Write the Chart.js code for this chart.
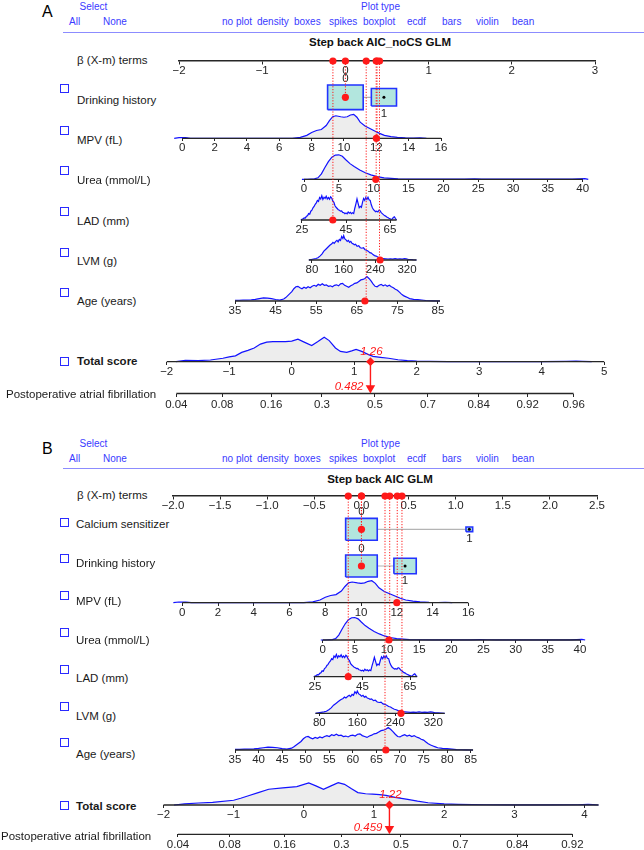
<!DOCTYPE html>
<html>
<head>
<meta charset="utf-8">
<script src="https://cdn.jsdelivr.net/npm/chart.js@4.4.0/dist/chart.umd.min.js"></script>
<style>
  html, body { margin: 0; padding: 0; background: #fff; }
  body { position: relative; width: 644px; height: 850px; overflow: hidden;
         font-family: "Liberation Sans", Arial, Helvetica, sans-serif; color: #1a1a1a; }
  canvas { position: absolute; }
  .t { position: absolute; white-space: nowrap; line-height: 1.2; transform: translateY(-50%); }
  .c { transform: translate(-50%, -50%); }
  .hd { font-size: 10px; color: #3a3aff; }
  .lab { font-size: 11.5px; color: #1a1a1a; }
  .box { position: absolute; width: 7px; height: 7px; border: 1.3px solid #2a2aff; }
  .rule { position: absolute; height: 0; border-top: 1px solid #8c8cff; }
</style>
</head>
<body>
<script>
// ---------- tick values ----------
var betaTicksA = [-2, -1, 0, 1, 2, 3];
var betaTicksB = [-2, -1.5, -1, -0.5, 0, 0.5, 1, 1.5, 2, 2.5];
var mpvTicks = [0, 2, 4, 6, 8, 10, 12, 14, 16];
var ureaTicks = [0, 5, 10, 15, 20, 25, 30, 35, 40];
var ladTicks = [25, 45, 65];
var lvmTicks = [80, 160, 240, 320];
var ageTicksA = [35, 45, 55, 65, 75, 85];
var ageTicksB = [35, 40, 45, 50, 55, 60, 65, 70, 75, 80, 85];
var totalTicksA = [-2, -1, 0, 1, 2, 3, 4, 5];
var totalTicksB = [-2, -1, 0, 1, 2, 3, 4];
var probTicksA = [0.04, 0.08, 0.16, 0.3, 0.5, 0.7, 0.84, 0.92, 0.96];
var probTicksB = [0.04, 0.08, 0.16, 0.3, 0.5, 0.7, 0.84, 0.92];

// ---------- the patient shown ----------
var obsMPV = 12.0, obsUrea = 10.3, obsLAD = 39, obsLVM = 252, obsAge = 67;
var obsDrinking = 0, obsCalcium = 0;
var betaObsA = [0, 0.38, 0.37, -0.15, 0.41, 0.25];          // drinking, MPV, urea, LAD, LVM, age
var betaObsB = [0, 0, 0.38, 0.30, -0.14, 0.43, 0.25];       // calcium, drinking, MPV, urea, LAD, LVM, age
var totalA = 1.26, probA = 0.482;
var totalB = 1.22, probB = 0.459;

// ---------- categorical terms ----------
var levels01 = ['0', '1'];
var drinkBeta = [0, 0.463], drinkFreq = [0.667, 0.333];
var calcBeta = [0, 1.145], calcFreq = [0.957, 0.043];

// ---------- axis extents ----------
var mpvRange = [0, 16], ureaRange = [0, 40], ladRange = [24.5, 68], lvmRange = [72, 344], ageRange = [35, 85.5];
var totalRangeA = [-2, 5], totalRangeB = [-2, 4.2];

// ---------- densities (relative height) ----------
var mpvX = [-0.5, -0.2, 0.2, 0.5, 6.8, 7.3, 7.7, 8.0, 8.3, 8.6, 8.9, 9.1, 9.3, 9.5, 9.8, 10.0, 10.2, 10.4, 10.6, 10.8, 11.0, 11.3, 11.6, 11.9, 12.2, 12.5, 12.9, 13.3, 13.8, 14.3, 14.7, 15.1];
var mpvD = [0, 0.03, 0.03, 0, 0, 0.04, 0.12, 0.24, 0.32, 0.36, 0.52, 0.72, 0.88, 0.92, 0.88, 0.86, 0.88, 0.95, 0.98, 0.86, 0.66, 0.5, 0.4, 0.3, 0.2, 0.12, 0.07, 0.04, 0.02, 0.01, 0.02, 0];

var ureaX = [-0.3, 0.5, 1.5, 2.0, 2.5, 3.0, 3.5, 4.0, 4.5, 5.0, 5.5, 6.0, 6.6, 7.2, 8.0, 8.8, 9.6, 10.5, 11.5, 12.5, 13.5, 15, 17, 19, 21, 23, 24.5, 25.5, 27, 29, 30.5, 32, 34, 35.5, 37, 38.5, 39.5, 40.3, 40.8];
var ureaD = [0, 0, 0.02, 0.06, 0.22, 0.48, 0.72, 0.9, 0.99, 1.0, 0.94, 0.8, 0.64, 0.52, 0.38, 0.27, 0.18, 0.11, 0.06, 0.04, 0.02, 0.01, 0.005, 0.008, 0.004, 0.006, 0.015, 0.01, 0.004, 0.006, 0.012, 0.004, 0.005, 0.01, 0.004, 0.006, 0.02, 0.03, 0];

var ladX = [24.5, 25, 25.5, 26, 26.5, 27, 27.5, 28, 28.5, 29, 29.5, 30, 30.5, 31, 31.5, 32, 32.5, 33, 33.5, 34,
            34.5, 35, 35.5, 36, 36.5, 37, 37.5, 38, 38.5, 39, 39.5, 40, 40.5, 41, 41.5, 42, 42.5, 43, 43.5, 44,
            44.5, 45, 45.5, 46, 46.5, 47, 47.5, 48, 48.5, 49, 49.5, 50, 50.5, 51, 51.5, 52, 52.5, 53, 53.5, 54,
            54.5, 55, 55.5, 56, 56.5, 57, 57.5, 58, 58.5, 59, 59.5, 60, 60.5, 61, 61.5, 62, 62.5, 63, 63.5, 64,
            64.5, 65, 65.5, 66, 66.5, 67, 67.5, 68];
var ladD = [0, 0.03, 0.05, 0.09, 0.08, 0.15, 0.17, 0.26, 0.24, 0.36, 0.40, 0.50, 0.55, 0.64, 0.70, 0.80, 0.76, 0.92, 0.86, 0.99,
            0.84, 0.93, 0.88, 0.97, 0.86, 0.92, 0.85, 0.95, 0.90, 0.78, 0.72, 0.58, 0.52, 0.47, 0.42, 0.40, 0.36, 0.37, 0.31, 0.30,
            0.26, 0.29, 0.25, 0.33, 0.28, 0.31, 0.26, 0.30, 0.27, 0.48, 0.66, 0.86, 0.68, 0.50, 0.56, 0.52, 0.72, 0.88, 0.80, 0.92,
            0.84, 0.93, 0.82, 0.80, 0.62, 0.50, 0.42, 0.38, 0.34, 0.36, 0.33, 0.40, 0.38, 0.30, 0.26, 0.22, 0.18, 0.16, 0.12, 0.10,
            0.07, 0.05, 0.03, 0.04, 0.10, 0.13, 0.06, 0];

var lvmX = [72, 78, 84, 90, 95, 100, 105, 110, 115, 120, 125, 130, 133, 136, 140, 143, 146, 149, 152, 155, 158, 160, 163, 166, 169,
            172, 175, 178, 181, 184, 187, 190, 194, 198, 202, 206, 210, 214, 218, 222, 226, 230, 234, 238, 242, 246, 250, 255, 260, 266,
            272, 278, 284, 290, 296, 302, 308, 314, 318, 324, 330, 336, 344];
var lvmD = [0, 0.02, 0.04, 0.06, 0.09, 0.16, 0.24, 0.36, 0.44, 0.52, 0.60, 0.66, 0.72, 0.68, 0.76, 0.80, 0.74, 0.84, 0.80, 0.96, 0.88, 0.99, 0.86, 0.82, 0.76,
            0.80, 0.72, 0.76, 0.68, 0.66, 0.62, 0.64, 0.56, 0.58, 0.50, 0.48, 0.50, 0.42, 0.40, 0.36, 0.30, 0.28, 0.22, 0.18, 0.16, 0.12, 0.10, 0.07, 0.06, 0.05,
            0.04, 0.05, 0.04, 0.06, 0.04, 0.05, 0.04, 0.06, 0.05, 0.02, 0.02, 0.01, 0];

var ageX = [35, 36, 37, 38, 39, 40, 41, 42, 43, 44, 45, 46, 47, 47.5, 48, 48.5, 49, 49.5, 50, 50.5, 51, 51.5, 52, 52.5, 53, 53.5, 54,
            54.5, 55, 55.5, 56, 56.5, 57, 57.5, 58, 58.5, 59, 59.5, 60, 60.5, 61, 61.5, 62, 62.5, 63, 63.5, 64, 64.5, 65, 65.5, 66,
            66.5, 67, 67.5, 68, 68.5, 69, 69.5, 70, 70.5, 71, 71.5, 72, 72.5, 73, 73.5, 74, 74.5, 75, 75.5, 76, 76.5, 77, 77.5, 78,
            79, 80, 81, 82, 83, 84, 85.5];
var ageD = [0.03, 0.03, 0.04, 0.04, 0.05, 0.07, 0.10, 0.13, 0.12, 0.10, 0.06, 0.04, 0.08, 0.14, 0.22, 0.30, 0.38, 0.50, 0.58, 0.60, 0.54, 0.50, 0.56, 0.52, 0.58, 0.54, 0.60,
            0.64, 0.60, 0.68, 0.64, 0.70, 0.64, 0.66, 0.60, 0.62, 0.58, 0.64, 0.66, 0.62, 0.70, 0.72, 0.64, 0.60, 0.56, 0.62, 0.66, 0.72, 0.74, 0.80, 0.86,
            0.88, 0.92, 1.0, 0.92, 0.82, 0.70, 0.60, 0.58, 0.64, 0.68, 0.62, 0.66, 0.60, 0.64, 0.58, 0.54, 0.48, 0.44, 0.36, 0.28, 0.22, 0.18, 0.14, 0.10,
            0.07, 0.06, 0.04, 0.02, 0.01, 0.005, 0];

var totalAX = [-1.85, -1.7, -1.5, -1.3, -1.1, -1.0, -0.9, -0.8, -0.7, -0.6, -0.5, -0.4, -0.3, -0.1, 0, 0.1, 0.2, 0.32, 0.42, 0.52, 0.6, 0.7,
               0.78, 0.88, 0.96, 1.03, 1.12, 1.22, 1.3, 1.42, 1.55, 1.7, 1.85, 2.0, 2.2, 2.5, 3.0, 3.5, 4.0, 4.4, 4.55, 4.65, 4.8];
var totalAD = [0, 0.06, 0.04, 0.07, 0.14, 0.2, 0.24, 0.38, 0.46, 0.56, 0.72, 0.8, 0.82, 0.82, 0.84, 0.92, 0.8, 0.66, 0.82, 1.0, 0.86, 0.56,
               0.42, 0.38, 0.44, 0.5, 0.42, 0.3, 0.22, 0.18, 0.14, 0.08, 0.04, 0.02, 0.01, 0.005, 0.003, 0.002, 0.002, 0.01, 0.02, 0.01, 0];

var totalBX = [-1.85, -1.7, -1.5, -1.3, -1.0, -0.9, -0.8, -0.65, -0.5, -0.3, -0.1, 0.07, 0.18, 0.28, 0.38, 0.49, 0.58, 0.68,
               0.77, 0.88, 0.98, 1.08, 1.17, 1.3, 1.48, 1.62, 1.77, 2.0, 2.2, 2.6, 3.0, 3.5, 3.9, 4.05, 4.12, 4.2];
var totalBD = [0, 0.05, 0.09, 0.12, 0.21, 0.3, 0.4, 0.55, 0.7, 0.76, 0.82, 0.98, 0.84, 0.7, 0.84, 0.99, 0.92, 0.72,
               0.55, 0.5, 0.48, 0.46, 0.43, 0.34, 0.25, 0.17, 0.1, 0.05, 0.03, 0.01, 0.005, 0.003, 0.01, 0.03, 0.02, 0];

// ---------- styling ----------
var FONT = '"Liberation Sans", Arial, Helvetica, sans-serif';
var BLUE = '#1212ff', FILL = '#ededed', RED = '#ff1a1a', AXIS = '#262626';
var TEAL = '#b2e6de', BOXLINE = '#2233ff';
var plotTypes = ['no plot', 'density', 'boxes', 'spikes', 'boxplot', 'ecdf', 'bars', 'violin', 'bean'];
var plotTypeX = [222, 257, 294, 329, 363, 407, 442, 476, 512];

function logit(p) { return Math.log(p / (1 - p)); }
function minus(s) { return String(s).replace('-', '\u2212'); }

function text(x, y, s, cls, css) {
  var d = document.createElement('div');
  d.className = 't ' + (cls || '');
  d.textContent = s;
  d.style.left = x + 'px';
  d.style.top = y + 'px';
  if (css) d.style.cssText += css;
  document.body.appendChild(d);
}

function checkbox(x, y) {
  var b = document.createElement('div');
  b.className = 'box';
  b.style.left = x + 'px';
  b.style.top = (y - 4.7) + 'px';
  document.body.appendChild(b);
}

function notesPlugin(items) {
  return {
    id: 'notes',
    afterDatasetsDraw: function (chart) {
      var ctx = chart.ctx, sx = chart.scales.x, sy = chart.scales.y;
      items.forEach(function (n) {
        ctx.save();
        ctx.font = n.f || ('11.5px ' + FONT);
        ctx.fillStyle = n.c || AXIS;
        ctx.textAlign = n.a || 'center';
        ctx.textBaseline = 'middle';
        ctx.fillText(n.t, sx.getPixelForValue(n.x) + (n.dx || 0), sy.getPixelForValue(n.y) + (n.dy || 0));
        ctx.restore();
      });
    }
  };
}

// one small chart; o.cal = [v0, px0, v1, px1] puts x values on the page
function addChart(o) {
  var k = (o.cal[3] - o.cal[1]) / (o.cal[2] - o.cal[0]);
  var L = o.cal[1] + (o.xmin - o.cal[0]) * k;
  var R = o.cal[1] + (o.xmax - o.cal[0]) * k;
  var cl = Math.floor(L) - 26, ct = Math.floor(o.top) - 14;
  var cw = Math.ceil(R) + 26 - cl, ch = Math.ceil(o.bottom) + 30 - ct;
  var cv = document.createElement('canvas');
  cv.width = cw; cv.height = ch;
  cv.style.left = cl + 'px'; cv.style.top = ct + 'px';
  document.body.appendChild(cv);
  var ticks = o.ticks || [];
  var labels = o.labels || ticks.map(minus);
  return new Chart(cv, {
    type: 'line',
    data: {datasets: o.datasets},
    options: {
      responsive: false, animation: false, events: [],
      layout: {padding: {left: L - cl, right: cl + cw - R, top: o.top - ct, bottom: ct + ch - o.bottom}},
      plugins: {legend: {display: false}, tooltip: {enabled: false}},
      scales: {
        x: {
          type: 'linear', min: o.xmin, max: o.xmax, display: !!o.ticks,
          position: {y: o.axisAt || 0},
          afterBuildTicks: function (s) { s.ticks = ticks.map(function (v) { return {value: v}; }); },
          ticks: {autoSkip: false, maxRotation: 0, padding: o.tickPad || 0, color: AXIS,
                  font: {family: FONT, size: 11.5},
                  callback: function (v, i) { return labels[i]; }},
          grid: {drawOnChartArea: false, drawTicks: true, tickLength: 3, color: AXIS, lineWidth: 1},
          border: {display: !!o.border, color: AXIS, width: 1.5}
        },
        y: {type: 'linear', display: false, min: o.ymin, max: o.ymax, reverse: !!o.reverse}
      }
    },
    plugins: [notesPlugin(o.notes || [])]
  });
}

function pts(xs, ys) { return xs.map(function (x, i) { return {x: x, y: ys[i]}; }); }
function density(xs, ys) {
  return {data: pts(xs, ys), borderColor: BLUE, borderWidth: 1.2, backgroundColor: FILL,
          fill: 'origin', pointRadius: 0, tension: 0, clip: false, order: 5};
}
function segment(a, b, color, width, dash, order) {
  return {data: [a, b], borderColor: color, borderWidth: width, borderDash: dash || [],
          fill: false, pointRadius: 0, clip: false, order: order};
}
function marks(list, style, r, color, rot, order) {
  return {data: list, showLine: false, pointStyle: style, pointRadius: r, pointBackgroundColor: color,
          pointBorderColor: color, pointBorderWidth: 0, pointRotation: rot || 0, clip: false, order: order};
}

function varRow(r, h) {
  var lo = Math.min(r.range[0], r.x[0]), hi = Math.max(r.range[1], r.x[r.x.length - 1]);
  addChart({
    cal: r.cal, xmin: lo - 0.2, xmax: hi + 0.2, top: r.y - h, bottom: r.y, ymin: 0, ymax: 1,
    ticks: r.ticks,
    datasets: [
      density(r.x, r.d),
      segment({x: r.range[0], y: 0}, {x: r.range[1], y: 0}, AXIS, 1.3, null, 3),
      marks([{x: r.obs, y: 0}], 'circle', 3.6, RED, 0, 1)
    ]
  });
}

function boxRow(cal, y, betas, freq, obs, bigW) {
  var k = (cal[3] - cal[1]) / (cal[2] - cal[0]);
  var fmax = Math.max.apply(null, freq);
  var ds = [segment({x: betas[0], y: 0}, {x: betas[betas.length - 1], y: 0}, '#b4b4b4', 1.2, null, 9)];
  var notes = [];
  levels01.forEach(function (lv, i) {
    var w = bigW * Math.sqrt(freq[i] / fmax), h = w / 1.44;
    var x0 = betas[i] - w / 2 / k, x1 = betas[i] + w / 2 / k;
    ds.push({data: [{x: x0, y: h / 2}, {x: x1, y: h / 2}], borderWidth: 0, borderColor: 'rgba(0,0,0,0)',
             backgroundColor: TEAL, fill: {value: -h / 2}, pointRadius: 0, clip: false, order: 8});
    ds.push({data: [{x: x0, y: -h / 2}, {x: x0, y: h / 2}, {x: x1, y: h / 2}, {x: x1, y: -h / 2}, {x: x0, y: -h / 2}],
             borderColor: BOXLINE, borderWidth: 1.6, fill: false, pointRadius: 0, clip: false, order: 7});
    notes.push({x: betas[i], y: i === 0 ? h / 2 : -h / 2, dy: i === 0 ? -6.5 : 7.5, t: lv});
  });
  ds.push(marks(betas.map(function (b) { return {x: b, y: 0}; }), 'circle', 1.5, '#000', 0, 2));
  ds.push(marks([{x: betas[obs], y: 0}], 'circle', 3.6, RED, 0, 1));
  addChart({cal: cal, xmin: cal[0], xmax: cal[2], top: y - 20, bottom: y + 20, ymin: -20, ymax: 20,
            datasets: ds, notes: notes});
}

function buildPanel(P) {
  var dy = P.dy;
  text(42, 12 + dy, P.letter, '', 'font-size:16px;color:#000');
  text(93.5, 7 + dy, 'Select', 'hd c');
  text(69, 22 + dy, 'All', 'hd');
  text(103, 22 + dy, 'None', 'hd');
  text(380.5, 7 + dy, 'Plot type', 'hd c');
  plotTypes.forEach(function (s, i) { text(plotTypeX[i], 22 + dy, s, 'hd'); });
  var rule = document.createElement('div');
  rule.className = 'rule';
  rule.style.left = '63px'; rule.style.width = '581px'; rule.style.top = (31.5 + dy) + 'px';
  document.body.appendChild(rule);
  text(380, 43 + dy, P.title, 'c', 'font-size:11.5px;font-weight:bold;color:#111');

  text(77, P.beta.y, '\u03b2 (X-m) terms', 'lab');
  P.rows.forEach(function (r) {
    checkbox(P.cbx, r.cb);
    text(P.lx, r.ly, r.name, 'lab');
    if (r.box) boxRow(P.beta.cal, r.y, r.beta, r.freq, r.obs, P.boxW);
    else varRow(r, P.h);
  });

  // total score
  checkbox(P.cbx, P.total.cb);
  text(P.lx, P.total.ly, 'Total score', 'lab', 'font-weight:bold');
  var T = P.total;
  addChart({
    cal: T.cal, xmin: T.range[0] - 0.1, xmax: T.range[1] + 0.1, top: T.y - P.h, bottom: T.y, ymin: 0, ymax: 1,
    ticks: T.ticks,
    datasets: [
      density(T.x, T.d),
      segment({x: T.range[0], y: 0}, {x: T.range[1], y: 0}, AXIS, 1.3, null, 3),
      marks([{x: T.value, y: 0}], 'rectRot', 4.4, RED, 0, 1)
    ],
    notes: [{x: T.value, y: 0, dx: 1, dy: -10, t: T.value.toFixed(2), c: RED, f: 'italic 11.5px ' + FONT}]
  });

  // probability axis on the logit of the total score
  var Q = P.prob, c = T.value - logit(Q.value), span = Q.y - T.y;
  var pv = Q.ticks.map(function (p) { return logit(p) + c; });
  text(Q.lx, Q.ly, 'Postoperative atrial fibrillation', 'lab');
  addChart({
    cal: T.cal, xmin: T.range[0] - 0.1, xmax: T.range[1] + 0.1, top: T.y, bottom: Q.y, ymin: 0, ymax: span,
    ticks: pv, labels: Q.ticks.map(String), tickPad: 1,
    datasets: [
      segment({x: pv[0], y: 0}, {x: pv[pv.length - 1], y: 0}, AXIS, 1.3, null, 3),
      segment({x: T.value, y: span}, {x: T.value, y: 6}, RED, 1.4, null, 2),
      marks([{x: T.value, y: 5.5}], 'triangle', 5.5, RED, 180, 1)
    ],
    notes: [{x: T.value, y: 7, dx: -7, a: 'right', t: String(Q.value), c: RED, f: 'italic 11.5px ' + FONT}]
  });

  // beta axis with the dotted guides down to each term (drawn last, on top)
  var B = P.beta, ds = [marks(P.betaObs.map(function (b) { return {x: b, y: 0}; }), 'circle', 3.6, RED, 0, 1)];
  P.betaObs.forEach(function (b, i) {
    ds.push(segment({x: b, y: 0}, {x: b, y: P.rows[i].y - B.y}, RED, 1, [1.2, 1.6], 2));
  });
  var last = P.rows[P.rows.length - 1].y;
  addChart({
    cal: B.cal, xmin: B.cal[0], xmax: B.cal[2], top: B.y, bottom: last, ymin: 0, ymax: last - B.y, reverse: true,
    ticks: B.ticks, labels: B.labels, border: true, datasets: ds
  });
}

var panelA = {
  dy: 0, letter: 'A', title: 'Step back AIC_noCS GLM', h: 24.5, cbx: 60, lx: 77, boxW: 35.6,
  beta: {cal: [-2, 179, 3, 595], y: 61, ticks: betaTicksA, labels: betaTicksA.map(minus)},
  betaObs: betaObsA,
  rows: [
    {name: 'Drinking history', cb: 89, ly: 101, y: 97.3, box: true, beta: drinkBeta, freq: drinkFreq, obs: obsDrinking},
    {name: 'MPV (fL)', cb: 131, ly: 141, y: 138.3, cal: [0, 182.3, 16, 441], x: mpvX, d: mpvD, ticks: mpvTicks, range: mpvRange, obs: obsMPV},
    {name: 'Urea (mmol/L)', cb: 171, ly: 181, y: 179.3, cal: [0, 304, 40, 582.7], x: ureaX, d: ureaD, ticks: ureaTicks, range: ureaRange, obs: obsUrea},
    {name: 'LAD (mm)', cb: 212, ly: 222, y: 220, cal: [25, 302, 65, 390], x: ladX, d: ladD, ticks: ladTicks, range: ladRange, obs: obsLAD},
    {name: 'LVM (g)', cb: 253, ly: 262, y: 260, cal: [80, 312, 320, 407], x: lvmX, d: lvmD, ticks: lvmTicks, range: lvmRange, obs: obsLVM},
    {name: 'Age (years)', cb: 293, ly: 302, y: 301, cal: [35, 235, 85, 438], x: ageX, d: ageD, ticks: ageTicksA, range: ageRange, obs: obsAge}
  ],
  total: {cb: 362, ly: 362, y: 361.7, cal: [-2, 166.7, 5, 604.2], x: totalAX, d: totalAD, ticks: totalTicksA, range: totalRangeA, value: totalA},
  prob: {lx: 6, ly: 395, y: 393.5, ticks: probTicksA, value: probA}
};

var panelB = {
  dy: 436.8, letter: 'B', title: 'Step back AIC GLM', h: 22.5, cbx: 59.5, lx: 76, boxW: 31.6,
  beta: {cal: [-2, 173, 2.5, 597], y: 496, ticks: betaTicksB, labels: betaTicksB.map(function (v) { return minus(v.toFixed(1)); })},
  betaObs: betaObsB,
  rows: [
    {name: 'Calcium sensitizer', cb: 522.3, ly: 525.3, y: 529.3, box: true, beta: calcBeta, freq: calcFreq, obs: obsCalcium},
    {name: 'Drinking history', cb: 559, ly: 564, y: 566, box: true, beta: drinkBeta, freq: drinkFreq, obs: obsDrinking},
    {name: 'MPV (fL)', cb: 595.7, ly: 602.3, y: 602.7, cal: [0, 182.3, 16, 468.3], x: mpvX, d: mpvD, ticks: mpvTicks, range: mpvRange, obs: obsMPV},
    {name: 'Urea (mmol/L)', cb: 632.7, ly: 640.7, y: 640, cal: [0, 322.7, 40, 580], x: ureaX, d: ureaD, ticks: ureaTicks, range: ureaRange, obs: obsUrea},
    {name: 'LAD (mm)', cb: 669.3, ly: 679, y: 676.7, cal: [25, 315, 65, 410], x: ladX, d: ladD, ticks: ladTicks, range: ladRange, obs: obsLAD},
    {name: 'LVM (g)', cb: 706.3, ly: 716.7, y: 713.3, cal: [80, 319.3, 320, 433.3], x: lvmX, d: lvmD, ticks: lvmTicks, range: lvmRange, obs: obsLVM},
    {name: 'Age (years)', cb: 742.7, ly: 755, y: 750, cal: [35, 235, 85, 470.7], x: ageX, d: ageD, ticks: ageTicksB, range: ageRange, obs: obsAge}
  ],
  total: {cb: 805.7, ly: 807, y: 805, cal: [-2, 163.5, 4, 584.5], x: totalBX, d: totalBD, ticks: totalTicksB, range: totalRangeB, value: totalB},
  prob: {lx: 1, ly: 836.7, y: 834.3, ticks: probTicksB, value: probB}
};

buildPanel(panelA);
buildPanel(panelB);
</script>
</body>
</html>
